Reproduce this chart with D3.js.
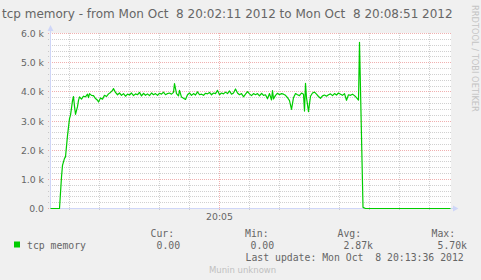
<!DOCTYPE html>
<html>
<head>
<meta charset="utf-8">
<script src="https://cdn.jsdelivr.net/npm/d3@7"></script>
<style>
    body { margin: 0; background: #f0f0f0; }
    svg text { white-space: pre; }
</style>
</head>
<body>
<script>
// seconds after the start of the window, and tcp memory at that second
var seconds = [0, 9, 11, 12, 14, 15, 17, 19, 20, 21, 22, 23, 24, 25, 27, 28, 29, 31, 33, 35,
               37, 38, 39, 41, 43, 45, 47, 48, 50, 52, 54, 56, 58, 60, 62, 63, 65, 67, 69, 71,
               73, 75, 77, 79, 81, 83, 85, 87, 89, 91, 93, 95, 97, 99, 101, 103, 105, 107, 109, 111,
               113, 115, 117, 119, 121, 123, 124, 126, 128, 129, 131, 133, 135, 137, 139, 141, 143, 145, 147, 149,
               151, 153, 155, 157, 159, 161, 163, 165, 167, 169, 171, 173, 175, 177, 179, 181, 183, 185, 187, 189,
               191, 193, 195, 197, 199, 201, 203, 205, 207, 209, 211, 213, 215, 217, 219, 221, 222, 223, 225, 227,
               229, 231, 233, 235, 237, 239, 241, 243, 245, 247, 249, 251, 253, 254, 255, 256, 258, 260, 262, 264,
               266, 268, 270, 272, 274, 276, 278, 280, 282, 284, 286, 288, 290, 292, 294, 296, 298, 300, 302, 304,
               306, 307, 308, 309, 312.5, 315, 400];
var memory = [0, 0, 1080, 1480, 1720, 1770, 2500, 3080, 3200, 3440, 3700, 3840, 3500, 3230, 3490, 3710, 3830, 3750, 3850, 3830,
              3920, 3800, 3940, 3880, 3870, 3770, 3710, 3650, 3790, 3750, 3880, 3840, 3930, 3980, 4050, 4110, 3980, 3900, 3960, 3880,
              3940, 3850, 3920, 3890, 3960, 3870, 3930, 3900, 3980, 3860, 3950, 3880, 3930, 3870, 3960, 3900, 3940, 3880, 3950, 3920,
              3990, 3900, 3940, 3960, 3920, 3980, 4280, 3940, 3860, 4050, 3820, 3780, 3740, 3900, 3960, 3880, 3940, 3890, 4000, 3900,
              3920, 3880, 3950, 3930, 3980, 3900, 3960, 3940, 4050, 3900, 3960, 3930, 3990, 3940, 4030, 3920, 3960, 4100, 3960, 3900,
              3940, 3830, 3920, 4010, 3930, 3870, 3940, 3900, 3940, 3860, 3950, 3880, 3900, 3760, 3940, 3720, 4040, 3760, 3880, 3950,
              3900, 3940, 3920, 3880, 3800, 3700, 3400, 3800, 3940, 3900, 3870, 3960, 3920, 3340, 4290, 3800, 3320, 3850, 3960, 3990,
              3920, 3840, 3780, 3860, 3890, 3850, 3900, 3930, 3870, 3940, 3890, 3960, 3920, 3880, 3940, 3710, 3900, 3880, 3920, 3870,
              3800, 3760, 3720, 5700, 40, 0, 0];

var yTicks = [0, 1000, 2000, 3000, 4000, 5000, 6000];
var yTickLabels = ["0.0", "1.0 k", "2.0 k", "3.0 k", "4.0 k", "5.0 k", "6.0 k"];
var xTickLabels = ["20:05"];
var statNames = ["Cur:", "Min:", "Avg:", "Max:"];
var statValues = ["0.00", "0.00", "2.87k", "5.70k"];

var title = "tcp memory - from Mon Oct  8 20:02:11 2012 to Mon Oct  8 20:08:51 2012",
    lastUpdate = "Last update: Mon Oct  8 20:13:36 2012",
    start = new Date(2012, 9, 8, 20, 2, 11),
    end = new Date(2012, 9, 8, 20, 8, 51);

var width = 481,
    height = 280,
    lineColor = "#00cc00",
    axisColor = "#cfd6f8",
    fontColor = "#666666",
    minorGrid = "rgba(143,143,143,0.42)",
    majorGrid = "rgba(222,79,79,0.45)",
    sans = "'DejaVu Sans', sans-serif",
    mono = "'DejaVu Sans Mono', monospace";

var x = d3.scaleTime().domain([start, end]).range([50.5, 450.5]),
    y = d3.scaleLinear().domain([0, 6000]).range([208.5, 33.5]);

function crisp(v) { return Math.floor(v) + 0.5; }

var svg = d3.select("body").append("svg")
            .attr("width", width)
            .attr("height", height);

svg.append("rect")
   .attr("width", width)
   .attr("height", height)
   .style("fill", "#f0f0f0");

// canvas
svg.append("rect")
   .attr("x", 50)
   .attr("y", 33)
   .attr("width", 401)
   .attr("height", 176)
   .style("fill", "#ffffff");

// horizontal grid, minor every 200, major every 1000
var hGrid = d3.range(0, 6001, 200);
svg.selectAll(".hgrid")
   .data(hGrid)
   .enter().append("line")
   .attr("class", "hgrid")
   .attr("x1", 48)
   .attr("x2", 451)
   .attr("y1", function(d) {return crisp(y(d)); })
   .attr("y2", function(d) {return crisp(y(d)); })
   .style("stroke", function(d) {return d % 1000 === 0 ? majorGrid : minorGrid; })
   .style("stroke-dasharray", "1,1");

// vertical grid, every 30 s, major at 20:05
var vGrid = d3.timeSecond.every(30).range(start, end);
svg.selectAll(".vgrid")
   .data(vGrid)
   .enter().append("line")
   .attr("class", "vgrid")
   .attr("x1", function(d) {return crisp(x(d)); })
   .attr("x2", function(d) {return crisp(x(d)); })
   .attr("y1", 33)
   .attr("y2", 211)
   .style("stroke", function(d) {return d.getMinutes() === 5 && d.getSeconds() === 0 ? majorGrid : minorGrid; })
   .style("stroke-dasharray", "1,1");

// axes with arrows
svg.append("line")
   .attr("x1", 50.5).attr("x2", 50.5)
   .attr("y1", 209).attr("y2", 28)
   .style("stroke", axisColor);
svg.append("path")
   .attr("d", "M47.5,31L53.5,31L50.5,25Z")
   .style("fill", axisColor);
svg.append("line")
   .attr("x1", 50).attr("x2", 455)
   .attr("y1", 208.5).attr("y2", 208.5)
   .style("stroke", axisColor);
svg.append("path")
   .attr("d", "M453,205.5L453,211.5L458.5,208.5Z")
   .style("fill", axisColor);

// data line
var line = d3.line()
             .x(function(d) {return x(d[0]); })
             .y(function(d) {return y(d[1]); });

var points = seconds.map(function(s, i) {
    return [new Date(start.getTime() + s * 1000), memory[i]];
});

svg.append("path")
   .datum(points)
   .attr("d", line)
   .style("fill", "none")
   .style("stroke", lineColor)
   .style("stroke-width", 1.2)
   .style("stroke-linejoin", "round");

// y labels
svg.selectAll(".ylabel")
   .data(yTicks)
   .enter().append("text")
   .attr("class", "ylabel")
   .attr("x", 44)
   .attr("y", function(d) {return y(d) + 3.5; })
   .attr("text-anchor", "end")
   .style("font-family", sans)
   .style("font-size", "9.3px")
   .style("fill", fontColor)
   .text(function(d, i) {return yTickLabels[i]; });

// x label
svg.selectAll(".xlabel")
   .data(xTickLabels)
   .enter().append("text")
   .attr("class", "xlabel")
   .attr("x", function(d) {return x(new Date(2012, 9, 8, 20, 5, 0)); })
   .attr("y", 220)
   .attr("text-anchor", "middle")
   .style("font-family", sans)
   .style("font-size", "9.3px")
   .style("fill", fontColor)
   .text(function(d) {return d; });

// title
svg.append("text")
   .attr("x", 2)
   .attr("y", 18)
   .style("font-family", sans)
   .style("font-size", "12px")
   .style("fill", fontColor)
   .text(title);

// watermark
svg.append("text")
   .attr("transform", "translate(471.5,5) rotate(90)")
   .style("font-family", sans)
   .style("font-size", "8.3px")
   .style("fill", "#c4c4c4")
   .text("RRDTOOL / TOBI OETIKER");

// legend
svg.append("rect")
   .attr("x", 14)
   .attr("y", 241.5)
   .attr("width", 6)
   .attr("height", 6)
   .style("fill", lineColor);

svg.append("text")
   .attr("x", 27)
   .attr("y", 249)
   .style("font-family", mono)
   .style("font-size", "9.8px")
   .style("fill", fontColor)
   .text("tcp memory");

var statX = [150.5, 245, 337.5, 431.5],
    valueX = [156.5, 250.5, 343.5, 437.5];

svg.selectAll(".statName")
   .data(statNames)
   .enter().append("text")
   .attr("class", "statName")
   .attr("x", function(d, i) {return statX[i]; })
   .attr("y", 237)
   .style("font-family", mono)
   .style("font-size", "9.8px")
   .style("fill", fontColor)
   .text(function(d) {return d; });

svg.selectAll(".statValue")
   .data(statValues)
   .enter().append("text")
   .attr("class", "statValue")
   .attr("x", function(d, i) {return valueX[i]; })
   .attr("y", 249)
   .style("font-family", mono)
   .style("font-size", "9.8px")
   .style("fill", fontColor)
   .text(function(d) {return d; });

svg.append("text")
   .attr("x", 245.5)
   .attr("y", 261)
   .style("font-family", mono)
   .style("font-size", "9.8px")
   .style("fill", fontColor)
   .text(lastUpdate);

svg.append("text")
   .attr("x", 209)
   .attr("y", 272.5)
   .style("font-family", sans)
   .style("font-size", "8.5px")
   .style("fill", "#c0c0c0")
   .text("Munin unknown");
</script>
</body>
</html>
